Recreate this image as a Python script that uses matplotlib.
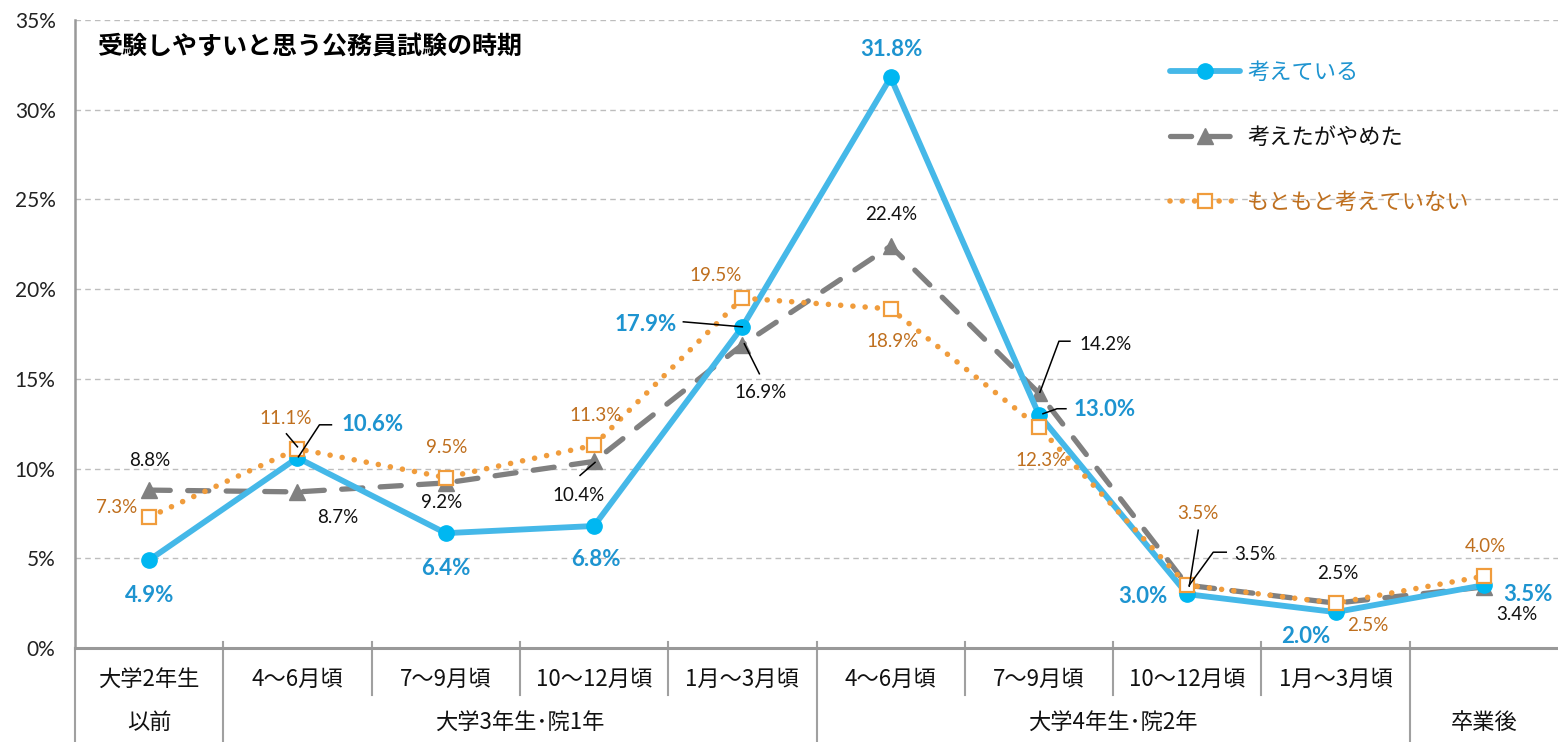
import numpy as np
import matplotlib
matplotlib.use("Agg")
import matplotlib.pyplot as plt
from matplotlib.transforms import IdentityTransform

plt.rcParams['font.family'] = ['Lato', 'Noto Sans CJK JP', 'DejaVu Sans']
JP = ['Noto Sans CJK JP', 'DejaVu Sans']

# time slots along the x axis
slots = ['大学2年生', '4～6月頃', '7～9月頃', '10～12月頃', '1月～3月頃',
         '4～6月頃', '7～9月頃', '10～12月頃', '1月～3月頃', '']
# (label, first slot, slot after last)
groups = [('以前', 0, 1), ('大学3年生･院1年', 1, 5), ('大学4年生･院2年', 5, 9), ('卒業後', 9, 10)]

names = ['考えている', '考えたがやめた', 'もともと考えていない']
thinking = [4.9, 10.6, 6.4, 6.8, 17.9, 31.8, 13.0, 3.0, 2.0, 3.5]
quit_ = [8.8, 8.7, 9.2, 10.4, 16.9, 22.4, 14.2, 3.5, 2.5, 3.4]
never = [7.3, 11.1, 9.5, 11.3, 19.5, 18.9, 12.3, 3.5, 2.5, 4.0]

BLUE, BLUE_MK, BLUE_TXT = '#45B8E8', '#00B7F1', '#1E94D0'
GRAY = '#808080'
ORANGE, ORANGE_TXT = '#F09C3C', '#BF6F1E'

# label offsets in pixels from each point
off_thinking = [(0, -35), (75, 33), (0, -35), (2, -34), (-97, 2),
                (1, 28), (66, 5), (-44, -2), (-30, -24), (44, -9)]
off_quit = [(1, 30), (40, -26), (-4, -20), (-15, -34), (18, -48),
            (1, 32), (67, 49), (68, 31), (2, 30), (33, -28)]
off_never = [(-33, 10), (-12, 30), (1, 30), (2, 30), (-27, 23),
             (2, -33), (3, -33), (11, 72), (32, -22), (2, 30)]

# leader lines: (series, slot, vertex offsets in pixels)
leaders = [
    (thinking, 1, [(1, 1), (22, 33), (34, 33)]),
    (never, 1, [(-11, 15), (0, 2)]),
    (thinking, 4, [(-59, 5), (0, 0)]),
    (quit_, 4, [(2, 1), (17, -29)]),
    (quit_, 3, [(-14, -14), (1, -1)]),
    (quit_, 6, [(1, 1), (20, 52), (31, 52)]),
    (thinking, 6, [(4, 1), (18, 6), (27, 6)]),
    (never, 7, [(11, 55), (2, -1)]),
    (quit_, 7, [(2, 0), (26, 33), (39, 33)]),
]

fig = plt.figure(figsize=(15.58, 7.42), dpi=100)
ax = fig.add_axes([75 / 1558, 1 - 648 / 742, 1483 / 1558, 628 / 742])

x = np.arange(len(slots))
ax.set_xlim(-0.5, len(slots) - 0.5)
ax.set_ylim(0, 35)

l_quit, = ax.plot(x, quit_, color=GRAY, lw=3.8, linestyle=(0, (4, 3.3)),
                  dash_capstyle='round', marker='^', ms=11, mfc=GRAY, mec=GRAY,
                  zorder=3, label=names[1])
l_think, = ax.plot(x, thinking, color=BLUE, lw=4.2, solid_capstyle='round',
                   marker='o', ms=11, mfc=BLUE_MK, mec=BLUE_MK, zorder=4, label=names[0])
l_never, = ax.plot(x, never, color=ORANGE, lw=4, linestyle=(0, (0.01, 2.2)),
                   dash_capstyle='round', marker='s', ms=10, mfc='white', mec=ORANGE,
                   mew=1.6, zorder=5, label=names[2])

# y axis and grid
ax.set_yticks(np.arange(0, 36, 5))
ax.set_yticklabels([f'{v}%' for v in range(0, 36, 5)], fontsize=15, color='#222222')
ax.tick_params(axis='y', length=0, pad=14)
ax.set_xticks([])
ax.grid(axis='y', color='#BDBDBD', linestyle=(0, (4, 3)), lw=1)
ax.set_axisbelow(True)
for s in ['top', 'right']:
    ax.spines[s].set_visible(False)
ax.spines['left'].set_color('#999999')
ax.spines['left'].set_linewidth(1.8)
ax.spines['bottom'].set_color('#999999')
ax.spines['bottom'].set_linewidth(2.2)

# two-level category axis
bt = ax.get_xaxis_transform()
sep_kw = dict(color='#A0A0A0', lw=1.5, transform=bt, clip_on=False)
long_edges = {g[1] for g in groups}
ax.plot([-0.5, -0.5], [0, -0.16], **sep_kw)
for b in range(1, len(slots)):
    edge = b - 0.5
    ax.plot([edge, edge], [0, 0.0095], **sep_kw)
    ax.plot([edge, edge], [0, -0.16 if b in long_edges else -0.075], **sep_kw)
for i, s in enumerate(slots):
    ax.text(i, -0.05, s, transform=bt, ha='center', va='center',
            fontsize=16, family=JP, color='#111111')
for name, a, b in groups:
    ax.text((a + b - 1) / 2, -0.118, name, transform=bt, ha='center', va='center',
            fontsize=16, family=JP, color='#111111')

# data labels
for vals, offs, color, weight, size in [
        (quit_, off_quit, '#111111', 'normal', 13.5),
        (never, off_never, ORANGE_TXT, 'normal', 13.5),
        (thinking, off_thinking, BLUE_TXT, 'bold', 16)]:
    for i, (v, (dx, dy)) in enumerate(zip(vals, offs)):
        ax.annotate(f'{v:.1f}%', (i, v), xytext=(dx, dy), textcoords='offset pixels',
                    ha='center', va='center', fontsize=size, color=color,
                    fontweight=weight, zorder=6)

for vals, i, verts in leaders:
    px, py = ax.transData.transform((i, vals[i]))
    vx = [px + dx for dx, _ in verts]
    vy = [py + dy for _, dy in verts]
    ax.plot(vx, vy, color='black', lw=1.1, transform=IdentityTransform(),
            clip_on=False, zorder=6)

ax.text(22 / 1483, 1 - 27 / 628, '受験しやすいと思う公務員試験の時期', transform=ax.transAxes,
        ha='left', va='center', fontsize=18, fontweight='bold', family=JP)

leg = ax.legend(handles=[l_think, l_quit, l_never], loc='upper left',
                bbox_to_anchor=(1170 / 1558, 1 - 61 / 742), bbox_transform=fig.transFigure,
                frameon=False, prop={'family': JP, 'size': 16}, handlelength=3.15,
                handletextpad=0.32, labelspacing=1.88, borderpad=0, borderaxespad=0,
                labelcolor=[BLUE_TXT, '#111111', ORANGE_TXT])

fig.savefig('out.png', dpi=100)
